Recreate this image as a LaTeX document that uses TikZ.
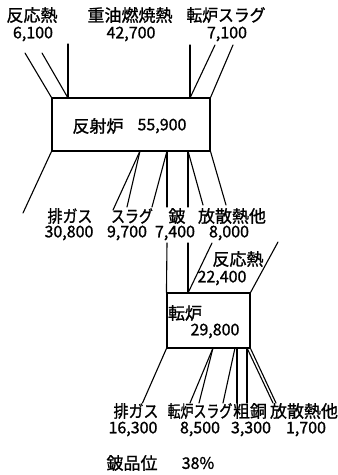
\documentclass[tikz,border=0pt]{standalone}
\usepackage{fontspec}
\setmainfont{Noto Sans CJK JP}[RawFeature={embolden=1.2}]
\begin{document}
\begin{tikzpicture}[x=1pt,y=-1pt,
  ln/.style={line width=1.1pt,line cap=round},
  boxst/.style={draw,line width=1.1pt,inner sep=0pt},
  lbl/.style={inner sep=0pt,font=\fontsize{17}{19}\selectfont},
  num/.style={inner sep=0pt,font=\fontsize{16}{18}\selectfont}]
\useasboundingbox (0,0) rectangle (338,475);
% main furnace box
\node[boxst,minimum width=158pt,minimum height=53pt] (rf) at (131,124.5) {};
\node[lbl] (rfname) at (98,126) {反射炉};
\node[num] (rfnum) at (162,126) {55,900};
% converter box
\node[boxst,minimum width=83pt,minimum height=55pt] (cv) at (208.5,320.5) {};
\node[lbl] (cvname) at (185,313) {転炉};
\node[num] (cvnum) at (215,331) {29,800};
% top labels
\node[lbl] (t1) at (32,15) {反応熱};
\node[num] (t1n) at (33,34) {6,100};
\node[lbl] (t2) at (130,15) {重油燃焼熱};
\node[num] (t2n) at (131,34) {42,700};
\node[lbl] (t3) at (226,15) {\scalebox{0.93}[1]{転炉スラグ}};
\node[num] (t3n) at (227,34) {7,100};
% middle labels
\node[lbl] (m1) at (70,216) {\scalebox{0.88}[1]{排ガス}};
\node[num] (m1n) at (69,233) {30,800};
\node[lbl] (m2) at (132,216) {\scalebox{0.82}[1]{スラグ}};
\node[num] (m2n) at (127,233) {9,700};
\node[lbl] (m3) at (177,216) {鈹};
\node[num] (m3n) at (175,233) {7,400};
\node[lbl] (m4) at (232,216) {放散熱他};
\node[num] (m4n) at (229,233) {8,000};
\node[lbl] (r1) at (238,259) {反応熱};
\node[num] (r1n) at (222,278) {22,400};
% bottom labels
\node[lbl] (b1) at (136,411) {\scalebox{0.88}[1]{排ガス}};
\node[num] (b1n) at (133,429) {16,300};
\node[lbl] (b2) at (200,411) {\scalebox{0.76}[1]{転炉スラグ}};
\node[num] (b2n) at (200,429) {8,500};
\node[lbl] (b3) at (250,411) {粗銅};
\node[num] (b3n) at (251,429) {3,300};
\node[lbl] (b4) at (304,411) {放散熱他};
\node[num] (b4n) at (306,429) {1,700};
\node[lbl] (q1) at (132,463) {鈹品位};
\node[num] (q1n) at (198,463) {38\%};
% top connectors
\coordinate (a1) at (25,53);
\coordinate (a2) at (42,53);
\coordinate (a3) at (68,44);
\coordinate (a4) at (190,45);
\coordinate (a5) at (215,45);
\coordinate (a6) at (233,45);
\draw[ln] (a1) -- (rf.north west);
\draw[ln] (a2) -- (68,98);
\draw[ln] (a3) -- (68,98);
\draw[ln] (a4) -- (190,98);
\draw[ln] (a5) -- (190,98);
\draw[ln] (a6) -- (rf.north east);
% bottom connectors of main box
\draw[ln] (rf.south west) -- (23,213);
\draw[ln] (140,151) -- (113,210);
\draw[ln] (140,151) -- (127,207);
\draw[ln] (167,151) -- (152,207);
\draw[ln] (167,151) -- (167,207);
\draw[ln] (188,151) -- (188,207);
\draw[ln] (188,151) -- (203,205);
\draw[ln] (rf.south east) -- (226,205);
% into converter
\draw[ln] (167,243) -- (cv.north west);
\draw[ln] (188,243) -- (188,293);
\draw[ln] (212,243) -- (188,293);
\draw[ln] (278,242) -- (cv.north east);
% converter outputs
\draw[ln] (cv.south west) -- (142.5,403);
\draw[ln] (213,348) -- (190,403);
\draw[ln] (213,348) -- (199,403);
\draw[ln] (235,348) -- (223,403);
\draw[ln] (237,348) -- (237,403);
\draw[ln] (247,348) -- (247,403);
\draw[ln] (247,348) -- (273,403);
\draw[ln] (cv.south east) -- (276,403);
\end{tikzpicture}
\end{document}
